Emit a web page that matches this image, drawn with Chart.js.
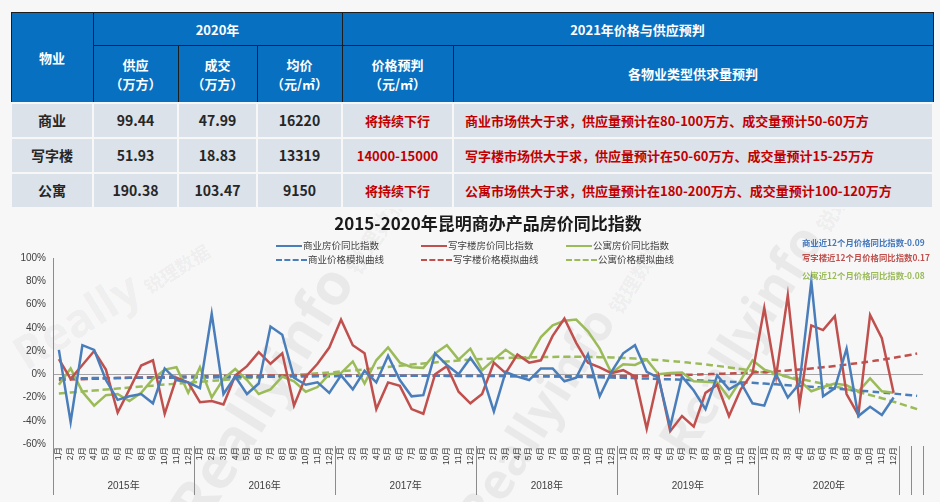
<!DOCTYPE html>
<html lang="zh-CN">
<head>
<meta charset="utf-8">
<title>2015-2020年昆明商办产品房价同比指数</title>
<script src="https://cdn.jsdelivr.net/npm/chart.js@4.4.0/dist/chart.umd.min.js"></script>
<style>
  html, body { margin: 0; padding: 0; }
  body {
    width: 940px; height: 502px; position: relative; overflow: hidden;
    background: #f7f7f7; font-family: 'Noto Sans CJK SC', sans-serif;
  }
  #summary {
    position: absolute; left: 10px; top: 12px; width: 922px;
    border-collapse: collapse; table-layout: fixed; z-index: 2;
  }
  #summary th {
    background: #0870c0; color: #fff; font-weight: bold; font-size: 13px;
    border: 1.5px solid #1d1d1d; line-height: 19px; padding: 0;
  }
  #summary td {
    background: #dbe2ea; border: 2px solid #f7f7f7; font-weight: bold;
    font-size: 14px; color: #262626; text-align: center; padding: 0;
  }
  #summary td.red { color: #c00000; font-size: 13px; }
  #summary td.wide { text-align: left; padding-left: 11px; }
  .wm { position: absolute; color: rgba(0,0,0,0.055); font-family: 'Open Sans', sans-serif; font-weight: bold; white-space: nowrap; transform-origin: 0 0; z-index: 0; }
  .wm span { font-family: 'Noto Sans CJK SC', sans-serif; font-size: 0.4em; margin-left: 6px; }
  #chart-title {
    position: absolute; left: 0; width: 976px; top: 212px; text-align: center;
    font-size: 17px; font-weight: bold; color: #1a1a1a; line-height: 22px; z-index: 2;
  }
  #chart-box { position: absolute; left: 0; top: 210px; width: 940px; height: 292px; z-index: 1; }
  .lg { position: absolute; font-size: 9.5px; color: #404040; white-space: nowrap; line-height: 12px; z-index: 2; }
  .lg i { display: inline-block; width: 26px; vertical-align: middle; margin-right: 1px; border-top: 2.5px solid; }
  .lg i.dash { border-top-style: dashed; width: 31px; }
  .note { position: absolute; left: 802px; font-size: 8.4px; font-weight: bold; white-space: nowrap; line-height: 11px; z-index: 2; }
</style>
</head>
<body>

<div class="wm" style="left:0px;top:330px;font-size:46px;transform:rotate(-32deg)">Really<span>锐理数据</span></div>
<div class="wm" style="left:150px;top:495px;font-size:58px;transform:rotate(-58deg)">Reallyinfo<span>锐理数据</span></div>
<div class="wm" style="left:440px;top:505px;font-size:50px;transform:rotate(-58deg)">Reallyinfo<span>锐理数据</span></div>
<div class="wm" style="left:640px;top:430px;font-size:52px;transform:rotate(-58deg)">Reallyinfo<span>锐理数据</span></div>

<table id="summary">
  <colgroup>
    <col style="width:82px"><col style="width:85px"><col style="width:79px">
    <col style="width:85px"><col style="width:111px"><col style="width:480px">
  </colgroup>
  <tr style="height:33px">
    <th rowspan="2">物业</th>
    <th colspan="3">2020年</th>
    <th colspan="2">2021年价格与供应预判</th>
  </tr>
  <tr style="height:57px">
    <th>供应<br>（万方）</th>
    <th>成交<br>（万方）</th>
    <th>均价<br>（元/㎡）</th>
    <th>价格预判<br>（元/㎡）</th>
    <th>各物业类型供求量预判</th>
  </tr>
  <tr style="height:35px">
    <td>商业</td><td>99.44</td><td>47.99</td><td>16220</td>
    <td class="red">将持续下行</td>
    <td class="red wide">商业市场供大于求，供应量预计在80-100万方、成交量预计50-60万方</td>
  </tr>
  <tr style="height:35px">
    <td>写字楼</td><td>51.93</td><td>18.83</td><td>13319</td>
    <td class="red">14000-15000</td>
    <td class="red wide">写字楼市场供大于求，供应量预计在50-60万方、成交量预计15-25万方</td>
  </tr>
  <tr style="height:35px">
    <td>公寓</td><td>190.38</td><td>103.47</td><td>9150</td>
    <td class="red">将持续下行</td>
    <td class="red wide">公寓市场供大于求，供应量预计在180-200万方、成交量预计100-120万方</td>
  </tr>
</table>

<div id="chart-box"><canvas id="chart" width="940" height="292"></canvas></div>
<div id="chart-title">2015-2020年昆明商办产品房价同比指数</div>

<div class="lg" style="left:276px;top:239px"><i style="color:#4a7ebb"></i>商业房价同比指数</div>
<div class="lg" style="left:421px;top:239px"><i style="color:#c0504d"></i>写字楼房价同比指数</div>
<div class="lg" style="left:566px;top:239px"><i style="color:#9bbb59"></i>公寓房价同比指数</div>
<div class="lg" style="left:276px;top:253px"><i class="dash" style="color:#4a7ebb"></i>商业价格模拟曲线</div>
<div class="lg" style="left:421px;top:253px"><i class="dash" style="color:#c0504d"></i>写字楼价格模拟曲线</div>
<div class="lg" style="left:566px;top:253px"><i class="dash" style="color:#9bbb59"></i>公寓价格模拟曲线</div>

<div class="note" style="top:237px;color:#4477bb">商业近12个月价格同比指数-0.09</div>
<div class="note" style="top:252px;color:#c0504d">写字楼近12个月价格同比指数0.17</div>
<div class="note" style="top:270px;color:#9bbb59">公寓近12个月价格同比指数-0.08</div>

<script>
const months = ['1月', '2月', '3月', '4月', '5月', '6月', '7月', '8月', '9月', '10月', '11月', '12月'];
const years = ['2015年', '2016年', '2017年', '2018年', '2019年', '2020年'];
// 72 个月 + 2 个空位（模拟曲线向后延伸）
const monthLabels = [...years.flatMap(() => months), '', ''];

// 同比指数（%）
const commercial = [
  21, -41, 25, 21, -5, -22, -19, -17, -25, 5, -5, -7,
  -12, 52, -17, -2, -17, -8, 41, 34, -3, -9, -7, -16,
  -1, -13, 3, -7, 16, -5, -19, -18, 18, 8, 0, 14,
  0, -32, 2, -2, -5, 5, 5, -6, -3, 17, -19, 2,
  18, 25, 2, -3, -45, -2, -14, -30, -1, -13, -7, -25,
  -27, 0, -20, -8, 80, -19, -12, 22, -36, -28, -35, -20,
];
const office = [
  13, -4, 8, 20, 4, -33, -13, 7.5, 12, -34, -3, -7,
  -24, -23, -26, -1, 7, 19, 9, 18, -27, -2, 9, 23,
  47, 25, 18, -30, -7, -10, -30, -34, 0, 7, -15, -25,
  -17, 10, 1, 17, 10, 12, 33, 48, 27, 10, 6, 1,
  3.5, -2, -47, -2, -49, -36, -45, -16, -9, -36, -13, 1,
  57, -2, 68, -26, 42, 38, 50, -17, -35, 51, 31, -16,
];
const apartment = [
  -9, 5, -15, -27, -18, -17, -23, -16, -4, 4, 6, -16,
  6, -20, -4, 4.5, -5, -17, -13, -2, -6, -15, -11, 0,
  1, 11, -8, 12, 23, 10, 6, 5.5, 18, 25, 12.6, 22,
  3.5, 12.6, 21, 14, 14, 32, 42, 46, 47, 37, 22, 1,
  8.5, 8, 12.6, 0, 1, 1.5, -6, -6.5, -7, -20.5, -5, 12,
  4, 1, -2.5, -5.5, -14.6, -11, -8, -9.5, -15, -3.5, -14.6, -16,
];

// 模拟曲线（%），读图估计，延伸到第 74 个位置
const commercialFit = [
  -3.5, -3.4, -3.4, -3.3, -3.3, -3.2, -3.1, -3.1, -3.0, -3.0, -2.9, -2.8,
  -2.7, -2.7, -2.6, -2.5, -2.4, -2.3, -2.2, -2.1, -2.0, -1.9, -1.8, -1.7,
  -1.6, -1.5, -1.5, -1.4, -1.3, -1.3, -1.2, -1.2, -1.2, -1.2, -1.2, -1.2,
  -1.3, -1.3, -1.4, -1.5, -1.6, -1.7, -1.9, -2.0, -2.2, -2.4, -2.6, -2.9,
  -3.1, -3.4, -3.7, -4.0, -4.4, -4.7, -5.1, -5.5, -6.0, -6.4, -6.9, -7.4,
  -8.0, -8.7, -9.4, -10.1, -10.8, -11.5, -12.3, -13.1, -13.9, -14.8, -15.7, -16.6,
  -17.6, -18.6,
];
const officeFit = [
  -5.0, -4.6, -4.2, -3.9, -3.6, -3.3, -3.0, -2.8, -2.5, -2.3, -2.1, -1.9,
  -1.8, -1.6, -1.5, -1.4, -1.3, -1.2, -1.1, -1.1, -1.0, -1.0, -1.0, -1.0,
  -1.0, -1.0, -1.0, -1.1, -1.1, -1.2, -1.2, -1.3, -1.3, -1.4, -1.4, -1.5,
  -1.5, -1.6, -1.6, -1.7, -1.7, -1.7, -1.7, -1.7, -1.7, -1.6, -1.6, -1.5,
  -1.5, -1.3, -1.2, -1.0, -0.8, -0.6, -0.3, 0.0, 0.3, 0.7, 1.1, 1.5,
  2.0, 2.6, 3.3, 4.1, 5.0, 6.0, 7.1, 8.3, 9.6, 11.0, 12.5, 14.1,
  15.9, 17.8,
];
const apartmentFit = [
  -16.5, -15.7, -14.9, -14.0, -13.2, -12.3, -11.5, -10.6, -9.8, -8.9, -8.1, -7.3,
  -6.5, -5.7, -4.9, -4.1, -3.4, -2.7, -2.0, -1.3, -0.6, 0.1, 0.8, 1.5,
  2.5, 3.3, 4.2, 5.2, 6.3, 7.3, 8.3, 9.3, 10.2, 11.0, 11.8, 12.5,
  13.1, 13.6, 14.0, 14.3, 14.6, 14.8, 14.9, 15.0, 15.0, 14.9, 14.7, 14.4,
  14.0, 13.5, 12.9, 12.2, 11.4, 10.5, 9.5, 8.4, 7.2, 5.9, 4.5, 3.0,
  1.4, -0.3, -2.1, -4.0, -6.0, -8.1, -10.4, -12.8, -15.3, -17.9, -20.6, -23.6,
  -26.8, -30.0,
];

const BLUE = '#4a7ebb';
const RED = '#c0504d';
const GREEN = '#9bbb59';
const FONT = "'Liberation Sans', 'Noto Sans CJK SC', sans-serif";

function lineSet(label, data, color, dashed) {
  return {
    label,
    data,
    borderColor: color,
    backgroundColor: color,
    borderWidth: 2.5,
    borderDash: dashed ? [7, 4] : [],
    pointRadius: 0,
    tension: dashed ? 0.4 : 0,
    fill: false,
  };
}

// 年份分组标签 + 分隔竖线
const yearGroups = {
  id: 'yearGroups',
  afterDraw(chart) {
    const { ctx, chartArea, scales: { x } } = chart;
    const band = (x.right - x.left) / monthLabels.length;
    const bottom = chartArea.bottom + 51;
    ctx.save();
    ctx.strokeStyle = '#8c8c8c';
    ctx.lineWidth = 1;
    ctx.beginPath();
    ctx.moveTo(x.left + 0.5, chartArea.bottom);
    ctx.lineTo(x.left + 0.5, bottom);
    for (const k of [12, 24, 36, 48, 60, 72, 73, 74]) {
      const px = Math.round(x.left + band * k) + 0.5;
      ctx.moveTo(px, chartArea.bottom + 2);
      ctx.lineTo(px, bottom);
    }
    ctx.stroke();
    ctx.fillStyle = '#404040';
    ctx.font = `10px ${FONT}`;
    ctx.textAlign = 'center';
    ctx.textBaseline = 'middle';
    years.forEach((y, i) => ctx.fillText(y, x.left + band * (i * 12 + 6), chartArea.bottom + 42));
    ctx.restore();
  },
};

new Chart(document.getElementById('chart'), {
  type: 'line',
  data: {
    labels: monthLabels,
    datasets: [
      lineSet('商业房价同比指数', commercial, BLUE, false),
      lineSet('写字楼房价同比指数', office, RED, false),
      lineSet('公寓房价同比指数', apartment, GREEN, false),
      lineSet('商业价格模拟曲线', commercialFit, BLUE, true),
      lineSet('写字楼价格模拟曲线', officeFit, RED, true),
      lineSet('公寓价格模拟曲线', apartmentFit, GREEN, true),
    ],
  },
  options: {
    responsive: false,
    animation: false,
    layout: { padding: { top: 48, right: 17, bottom: 0, left: 0 } },
    plugins: { legend: { display: false }, tooltip: { enabled: false }, title: { display: false } },
    scales: {
      x: {
        offset: true,
        grid: { display: false, drawTicks: false },
        border: { display: false },
        ticks: {
          autoSkip: false, minRotation: 90, maxRotation: 90, padding: 3,
          color: '#404040', font: { family: FONT, size: 8.5 },
        },
        afterFit: (s) => { s.height = 58; },
      },
      y: {
        min: -60,
        max: 100,
        grid: {
          drawTicks: false,
          color: (c) => (c.tick && c.tick.value === 0 ? '#a6a6a6' : 'rgba(0,0,0,0)'),
        },
        border: { display: true, color: '#8c8c8c' },
        ticks: {
          stepSize: 20, padding: 7, color: '#404040',
          font: { family: FONT, size: 10 },
          callback: (v) => v + '%',
        },
        afterFit: (s) => { s.width = 53; },
      },
    },
  },
  plugins: [yearGroups],
});
</script>
</body>
</html>
